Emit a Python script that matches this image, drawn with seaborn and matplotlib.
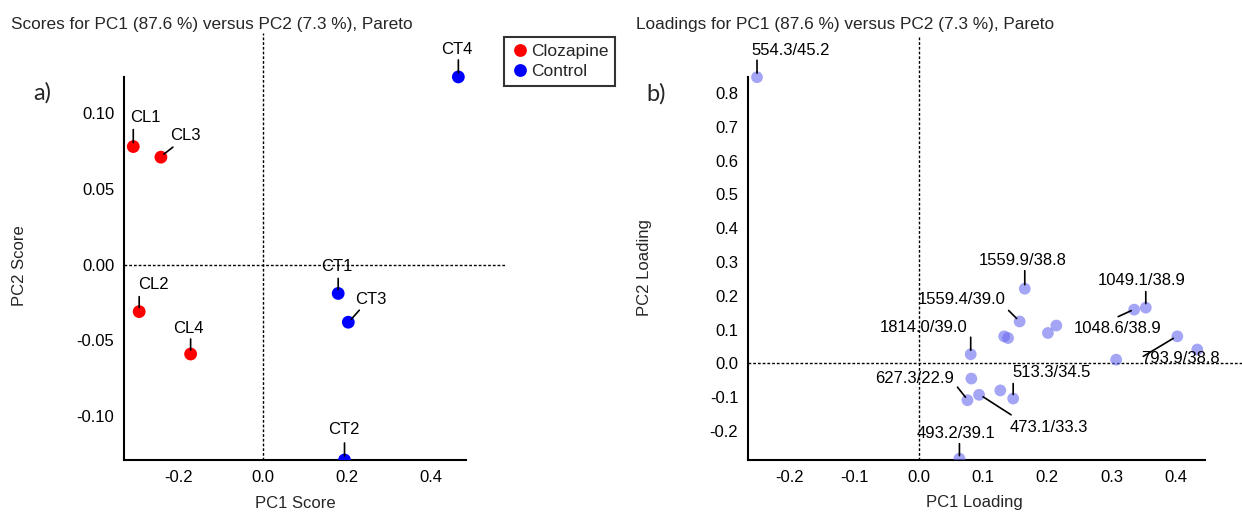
import numpy as np
import pandas as pd
import matplotlib
matplotlib.use("Agg")
import matplotlib.pyplot as plt
from matplotlib.transforms import offset_copy
from matplotlib.ticker import FormatStrFormatter
import seaborn as sns

# ---- scores (PC1 vs PC2) ----
score_labels = ["CL1", "CL2", "CL3", "CL4", "CT1", "CT2", "CT3", "CT4"]
score_groups = ["Clozapine", "Clozapine", "Clozapine", "Clozapine",
                "Control", "Control", "Control", "Control"]
pc1_score = [-0.307, -0.293, -0.2415, -0.171, 0.179, 0.194, 0.203, 0.464]
pc2_score = [0.078, -0.031, 0.071, -0.059, -0.019, -0.129, -0.038, 0.124]

# ---- loadings (PC1 vs PC2), variable names as m/z / retention time ----
loading_labels = ["554.3/45.2", "1559.9/38.8", "1559.4/39.0", "1814.0/39.0",
                  "", "", "", "",
                  "1048.6/38.9", "1049.1/38.9", "793.9/38.8", "", "",
                  "", "627.3/22.9", "473.1/33.3", "", "513.3/34.5",
                  "493.2/39.1"]
pc1_loading = [-0.251, 0.165, 0.157, 0.081,
               0.133, 0.139, 0.201, 0.214,
               0.335, 0.353, 0.402, 0.433, 0.307,
               0.082, 0.076, 0.094, 0.127, 0.147,
               0.0635]
pc2_loading = [0.847, 0.221, 0.124, 0.027,
               0.080, 0.075, 0.090, 0.112,
               0.159, 0.165, 0.080, 0.041, 0.011,
               -0.045, -0.109, -0.093, -0.080, -0.104,
               -0.282]

group_colors = {"Clozapine": "#ff0000", "Control": "#0000ff"}

# label placement: text centre offset, leader start, leader end (pixels from the point)
score_label_pos = {
    "CL1": ((12, 29), (0, 17), (0, 4)),
    "CL3": ((24, 22), (12, 10), (3, 3)),
    "CT4": ((-2, 27), (0, 17), (0, 4)),
    "CL2": ((14, 27), (0, 15), (0, 4)),
    "CL4": ((-2, 26), (0, 15), (0, 4)),
    "CT1": ((-1, 27), (0, 15), (0, 4)),
    "CT3": ((23, 23), (11, 12), (3, 3)),
    "CT2": ((-1, 30), (0, 17), (0, 4)),
}
loading_label_pos = {
    "554.3/45.2": ((34, 27), (0, 17), (0, 4)),
    "1559.9/38.8": ((-2, 28), (0, 18), (0, 4)),
    "1559.4/39.0": ((-58, 22), (-11, 11), (-3, 3)),
    "1814.0/39.0": ((-47, 27), (0, 17), (0, 4)),
    "1049.1/38.9": ((-4, 27), (0, 16), (0, 4)),
    "1048.6/38.9": ((-17, -19), (-16, -7), (-3, -1)),
    "793.9/38.8": ((3, -22), (-34, -20), (-4, -2)),
    "513.3/34.5": ((38, 26), (0, 15), (0, 4)),
    "627.3/22.9": ((-53, 22), (-10, 13), (-2, 3)),
    "473.1/33.3": ((70, -33), (32, -20), (4, -2)),
    "493.2/39.1": ((-3, 25), (0, 15), (0, 3)),
}

sns.set_style("white")
plt.rcParams["font.family"] = ["Liberation Sans", "DejaVu Sans"]
plt.rcParams["axes.unicode_minus"] = False

W, H, DPI = 1242, 514, 100
fig = plt.figure(figsize=(W / DPI, H / DPI), dpi=DPI)


def fig_rect(left, top, right, bottom):
    return [left / W, 1 - bottom / H, (right - left) / W, (bottom - top) / H]


ax1 = fig.add_axes(fig_rect(124, 33, 506, 460))
ax2 = fig.add_axes(fig_rect(748, 37, 1242, 460))

scores = pd.DataFrame({"label": score_labels, "group": score_groups,
                       "PC1": pc1_score, "PC2": pc2_score})
loadings = pd.DataFrame({"label": loading_labels, "PC1": pc1_loading,
                         "PC2": pc2_loading})

sns.scatterplot(data=scores, x="PC1", y="PC2", hue="group", palette=group_colors,
                s=85, edgecolor="none", linewidth=0, ax=ax1, zorder=3)
sns.scatterplot(data=loadings, x="PC1", y="PC2", color="#6a6af0", alpha=0.6,
                s=72, edgecolor="none", linewidth=0, ax=ax2, zorder=3)

dash = (0, (2.0, 1.4))
for ax in (ax1, ax2):
    ax.axhline(0, color="black", lw=1.0, ls=dash, zorder=1)
    ax.axvline(0, color="black", lw=1.0, ls=dash, zorder=1)
    for side in ("top", "right"):
        ax.spines[side].set_visible(False)
    for side in ("left", "bottom"):
        ax.spines[side].set_linewidth(1.5)
        ax.spines[side].set_color("black")
    ax.tick_params(which="major", direction="out", length=4, width=1.1,
                   labelsize=12, pad=3, colors="black")
    ax.tick_params(which="minor", direction="out", length=2.2, width=1.0)
    ax.set_facecolor("white")

# scores axes
ax1.set_xlim(-0.329, 0.577)
ax1.set_ylim(-0.129, 0.153)
ax1.spines["left"].set_bounds(-0.129, 0.124)
ax1.spines["bottom"].set_bounds(-0.329, 0.483)
ax1.set_xticks([-0.2, 0.0, 0.2, 0.4])
ax1.set_xticks([-0.3, -0.1, 0.1, 0.3], minor=True)
ax1.set_yticks([-0.10, -0.05, 0.0, 0.05, 0.10])
ax1.set_yticks([-0.12, -0.11, -0.09, -0.08, -0.07, -0.06, -0.04, -0.03, -0.02,
                -0.01, 0.01, 0.02, 0.03, 0.04, 0.06, 0.07, 0.08, 0.09, 0.11,
                0.12], minor=True)
ax1.xaxis.set_major_formatter(FormatStrFormatter("%.1f"))
ax1.yaxis.set_major_formatter(FormatStrFormatter("%.2f"))
ax1.set_xlabel("PC1 Score", fontsize=12, va="center")
ax1.xaxis.set_label_coords((295 - 124) / 382, (460 - 503) / 427)
ax1.set_ylabel("PC2 Score", fontsize=12, va="center")
ax1.yaxis.set_label_coords((20 - 124) / 382, (460 - 266) / 427)

# loadings axes
ax2.set_xlim(-0.265, 0.5025)
ax2.set_ylim(-0.286, 0.966)
ax2.spines["left"].set_bounds(-0.286, 0.849)
ax2.spines["bottom"].set_bounds(-0.265, 0.445)
ax2.set_xticks([-0.2, -0.1, 0.0, 0.1, 0.2, 0.3, 0.4])
ax2.set_xticks([-0.25, -0.15, -0.05, 0.05, 0.15, 0.25, 0.35], minor=True)
ax2.set_yticks([-0.2, -0.1, 0.0, 0.1, 0.2, 0.3, 0.4, 0.5, 0.6, 0.7, 0.8])
ax2.set_yticks([-0.25, -0.15, -0.05, 0.05, 0.15, 0.25, 0.35, 0.45, 0.55,
                0.65, 0.75], minor=True)
ax2.xaxis.set_major_formatter(FormatStrFormatter("%.1f"))
ax2.yaxis.set_major_formatter(FormatStrFormatter("%.1f"))
ax2.set_xlabel("PC1 Loading", fontsize=12, va="center")
ax2.xaxis.set_label_coords((974 - 748) / 494, (460 - 503) / 423)
ax2.set_ylabel("PC2 Loading", fontsize=12, va="center")
ax2.yaxis.set_label_coords((644 - 748) / 494, (460 - 268) / 423)


def label_point(ax, x, y, text, placement):
    (tx, ty), (fx, fy), (ex, ey) = placement
    ax.annotate(text, (x, y), xytext=(tx, ty), textcoords="offset pixels",
                ha="center", va="center", fontsize=12, color="black",
                annotation_clip=False, zorder=5)
    end = offset_copy(ax.transData, fig=fig, x=ex, y=ey, units="dots")
    ax.annotate("", xy=(x, y), xycoords=end, xytext=(fx - ex, fy - ey),
                textcoords="offset pixels", annotation_clip=False,
                arrowprops=dict(arrowstyle="-", color="black", lw=1.2,
                                shrinkA=0, shrinkB=0), zorder=5)


for _, r in scores.iterrows():
    label_point(ax1, r.PC1, r.PC2, r.label, score_label_pos[r.label])
for _, r in loadings.iterrows():
    if r.label:
        label_point(ax2, r.PC1, r.PC2, r.label, loading_label_pos[r.label])

# legend for the score groups
handles, labels = ax1.get_legend_handles_labels()
ax1.legend(handles, labels, loc="upper left", bbox_to_anchor=(504 / W, 1 - 37 / H),
           bbox_transform=fig.transFigure, frameon=True, fancybox=False,
           edgecolor="black", fontsize=12.5, borderpad=0.4, handletextpad=0.15,
           handlelength=1.0, labelspacing=0.3, borderaxespad=0, markerscale=1.0)
ax1.get_legend().get_frame().set_linewidth(1.5)

# panel titles and letters
fig.text(11 / W, 1 - 25 / H, "Scores for PC1 (87.6 %) versus PC2 (7.3 %), Pareto",
         ha="left", va="center", fontsize=12.4)
fig.text(636 / W, 1 - 25 / H, "Loadings for PC1 (87.6 %) versus PC2 (7.3 %), Pareto",
         ha="left", va="center", fontsize=12.4)
fig.text(42 / W, 1 - 93 / H, "a)", ha="center", va="center", fontsize=17,
         family=["Lato", "DejaVu Sans"])
fig.text(656 / W, 1 - 94 / H, "b)", ha="center", va="center", fontsize=17,
         family=["Lato", "DejaVu Sans"])

fig.savefig("out.png", dpi=DPI, facecolor="white")
